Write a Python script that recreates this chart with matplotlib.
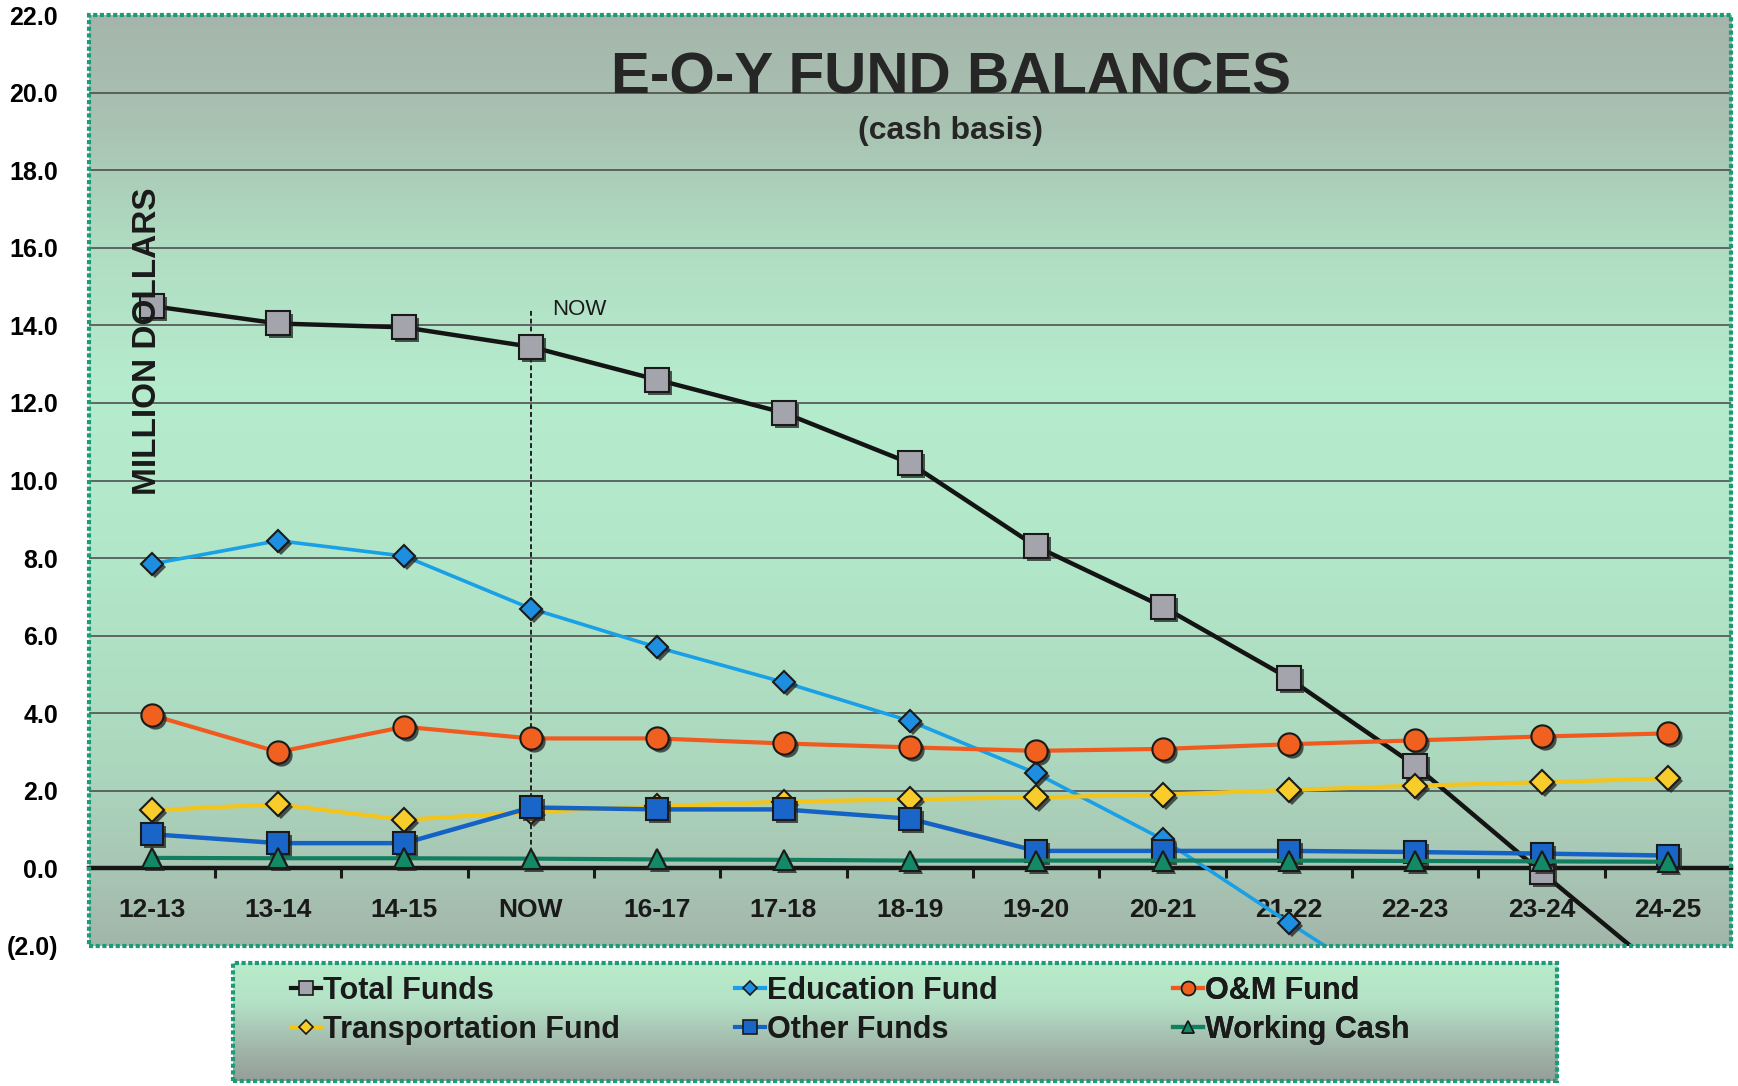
import numpy as np
import matplotlib
matplotlib.use('Agg')
import matplotlib.pyplot as plt
from matplotlib.colors import LinearSegmentedColormap
from matplotlib.patches import Rectangle
from matplotlib.lines import Line2D
from matplotlib.transforms import ScaledTranslation
from matplotlib.ticker import FuncFormatter

plt.rcParams['font.family'] = ['Liberation Sans', 'DejaVu Sans']

nan = np.nan
years = ['12-13', '13-14', '14-15', 'NOW', '16-17', '17-18', '18-19',
         '19-20', '20-21', '21-22', '22-23', '23-24', '24-25']
total = [14.5, 14.05, 13.95, 13.45, 12.6, 11.75, 10.45, 8.3, 6.75, 4.9, 2.65, -0.1, -2.8]
education = [7.85, 8.45, 8.05, 6.7, 5.7, 4.8, 3.8, 2.45, 0.75, -1.4, -3.5, nan, nan]
om = [3.95, 3.0, 3.65, 3.35, 3.35, 3.22, 3.12, 3.03, 3.08, 3.2, 3.3, 3.4, 3.48]
transport = [1.5, 1.65, 1.25, 1.45, 1.6, 1.72, 1.78, 1.83, 1.9, 2.02, 2.13, 2.22, 2.32]
other = [0.88, 0.65, 0.65, 1.57, 1.52, 1.52, 1.28, 0.45, 0.45, 0.45, 0.42, 0.38, 0.33]
working = [0.27, 0.26, 0.26, 0.25, 0.23, 0.22, 0.2, 0.2, 0.2, 0.2, 0.19, 0.18, 0.17]

# name, data, line color, marker, face color, marker size, line width
series = [
    ('Total Funds', total, '#141414', 's', '#a4a4ac', 17, 3.2),
    ('Education Fund', education, '#1aa0e6', 'D', '#1e8fe0', 11, 2.6),
    ('O&M Fund', om, '#f05a1e', 'o', '#f0601e', 16, 3.0),
    ('Transportation Fund', transport, '#f2c41c', 'D', '#f8cc2a', 12, 3.0),
    ('Other Funds', other, '#1462c4', 's', '#1a66c8', 16, 3.2),
    ('Working Cash', working, '#128060', '^', '#138a66', 14, 3.0),
]

fig = plt.figure(figsize=(17.38, 10.86), dpi=100)
ax = fig.add_axes([0.051, 0.129, 0.945, 0.857])
x = np.arange(len(years))

# zero line acts as the category axis
ax.spines['bottom'].set_position(('data', 0))
ax.spines['bottom'].set_linewidth(3.2)
ax.spines['bottom'].set_color('#151515')
ax.spines['bottom'].set_zorder(2.5)
for s in ['top', 'left', 'right']:
    ax.spines[s].set_visible(False)

# background gradient
bg = LinearSegmentedColormap.from_list('bg', [
    (0.0, '#a2b6aa'), (0.08, '#a8c6b4'), (0.2, '#acd8be'), (0.4, '#b2e6c8'),
    (0.6, '#b6ecce'), (0.75, '#b0ddc2'), (0.88, '#a9c3b2'), (1.0, '#a5b5ab')])
grad = np.linspace(0, 1, 256).reshape(-1, 1)
ax.imshow(grad, extent=[-0.5, 12.5, -2, 22], aspect='auto', cmap=bg,
          origin='lower', zorder=0)

for yv in range(2, 22, 2):
    ax.axhline(yv, color='#454545', lw=1.1, zorder=1)

# NOW marker line
ax.plot([3, 3], [0, 14.45], color='#222222', lw=1.4, ls=(0, (2.5, 1.5)), zorder=2)
ax.text(3.17, 14.4, 'NOW', fontsize=16, va='center', ha='left', color='#1a1a1a', zorder=2)

shadow = ax.transData + ScaledTranslation(3 / 100, -3 / 100, fig.dpi_scale_trans)
handles = []
for i, (name, vals, lc, mk, fc, ms, lw) in enumerate(series):
    z = 3 + i
    ax.plot(x, vals, color=lc, lw=lw, zorder=z, solid_capstyle='round')
    ax.plot(x, vals, ls='none', marker=mk, ms=ms, color='#222222', alpha=0.75,
            transform=shadow, zorder=z, markeredgewidth=0)
    ax.plot(x, vals, ls='none', marker=mk, ms=ms, markerfacecolor=fc,
            markeredgecolor='#1a1a1a', markeredgewidth=1.5, zorder=z + 0.5)
    handles.append(Line2D([], [], color=lc, lw=3, marker=mk, ms=ms * 0.62,
                          markerfacecolor=fc, markeredgecolor='#1a1a1a', markeredgewidth=1.2))

ax.set_xlim(-0.5, 12.5)
ax.set_ylim(-2, 22)
ax.set_yticks(np.arange(-2, 23, 2))
ax.yaxis.set_major_formatter(FuncFormatter(lambda v, p: f'({abs(v):.1f})' if v < 0 else f'{v:.1f}'))
ax.tick_params(axis='y', length=0, pad=22, labelsize=18)
for t in ax.get_yticklabels():
    t.set_fontweight('bold')

ax.set_xticks(x)
ax.set_xticklabels(years, fontweight='bold')
ax.set_xticks(np.arange(0.5, 12, 1), minor=True)
ax.tick_params(axis='x', which='major', length=0, pad=21, labelsize=19, labelcolor='#1a1a1a')
ax.tick_params(axis='x', which='minor', length=7, width=2.2, direction='out', color='#1a1a1a')

ax.add_patch(Rectangle((0, 0), 1, 1, transform=ax.transAxes, fill=False,
                       edgecolor='#1f9a78', lw=3, ls=(0, (1, 0.6)), clip_on=False, zorder=10))

fig.text(0.547, 0.928, 'E-O-Y FUND BALANCES', fontsize=42, fontweight='bold',
         ha='center', va='center', color='#262626')
fig.text(0.547, 0.879, '(cash basis)', fontsize=23, fontweight='bold',
         ha='center', va='center', color='#262626')
fig.text(0.0846, 0.686, 'MILLION DOLLARS', fontsize=24, fontweight='bold',
         rotation=90, ha='center', va='center', color='#1a1a1a')

# legend box
lax = fig.add_axes([0.134, 0.005, 0.762, 0.108])
lg = LinearSegmentedColormap.from_list('lg', ['#949e98', '#a4bcae', '#b4e2c6', '#b8ecca'])
lax.imshow(grad, extent=[0, 1, 0, 1], aspect='auto', cmap=lg, origin='lower',
           transform=lax.transAxes)
lax.set_xlim(0, 1)
lax.set_ylim(0, 1)
lax.set_xticks([])
lax.set_yticks([])
for s in lax.spines.values():
    s.set_visible(False)
lax.add_patch(Rectangle((0, 0), 1, 1, transform=lax.transAxes, fill=False,
                        edgecolor='#1f9a78', lw=3, ls=(0, (1, 0.6)), clip_on=False))

cols = [(0.023, [0, 3]), (0.358, [1, 4]), (0.689, [2, 5])]
for cx, idx in cols:
    leg = lax.legend([handles[k] for k in idx], [series[k][0] for k in idx],
                     loc='upper left', bbox_to_anchor=(cx, 1.13), frameon=False,
                     handlelength=1.0, handletextpad=0.05, labelspacing=0.3,
                     prop={'weight': 'bold', 'size': 22})
    for t in leg.get_texts():
        t.set_color('#1a1a1a')
    lax.add_artist(leg)

fig.savefig('out.png', dpi=100, facecolor='white')
